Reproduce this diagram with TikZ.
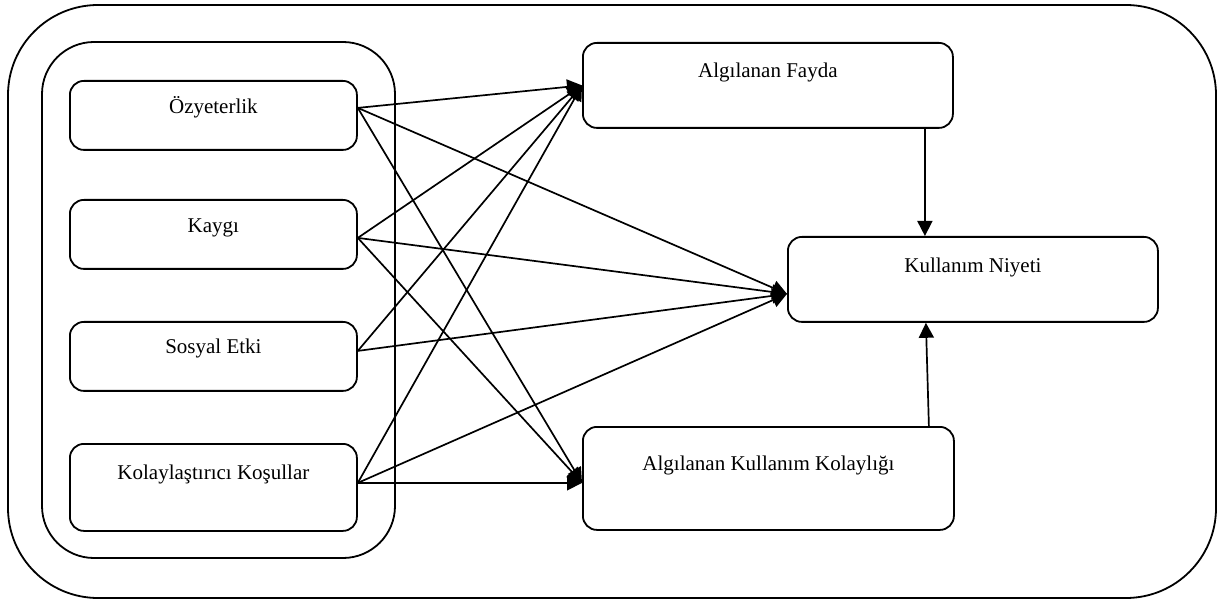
\documentclass[tikz,border=0pt]{standalone}
\usepackage{fontspec}
\setmainfont{Liberation Serif}
\usetikzlibrary{arrows.meta}
\tikzset{
  box/.style={draw, line width=1.8pt, rounded corners=14pt, inner xsep=0pt, inner ysep=0pt,
    font=\fontsize{21}{25}\selectfont, anchor=north west},
  frame/.style={draw, line width=1.8pt},
  link/.style={line width=1.7pt, -{Triangle[length=15pt,width=15pt]}}
}
\begin{document}
\begin{tikzpicture}[x=1pt,y=-1pt]
\useasboundingbox (0,0) rectangle (1218,601);
% frames
\draw[frame, rounded corners=90pt] (8,5) rectangle (1216,598);
\draw[frame, rounded corners=52pt] (42,42) rectangle (395,558);
% left boxes
\node[box, minimum width=287pt, text height=33pt, text depth=36pt] (oz) at (69,80) {Özyeterlik};
\node[box, minimum width=287pt, text height=33pt, text depth=36pt] (kaygi) at (69,199) {Kaygı};
\node[box, minimum width=287pt, text height=32pt, text depth=37pt] (sosyal) at (69,321) {Sosyal Etki};
\node[box, minimum width=287pt, text height=36pt, text depth=51pt] (kolayk) at (69,443) {Kolaylaştırıcı Koşullar};
% right boxes
\node[box, minimum width=370pt, text height=35pt, text depth=50pt] (fayda) at (582,42) {Algılanan Fayda};
\node[box, minimum width=370pt, text height=36pt, text depth=49pt] (niyet) at (787,236) {Kullanım Niyeti};
\node[box, minimum width=371pt, text height=44pt, text depth=59pt] (alk) at (582,426) {Algılanan Kullanım Kolaylığı};
% ports
\coordinate (ozP) at ([yshift=7.5pt]oz.east);
\coordinate (kaP) at ([yshift=-3.5pt]kaygi.east);
\coordinate (soP) at ([yshift=5.5pt]sosyal.east);
\coordinate (kkP) at ([yshift=4.5pt]kolayk.east);
\coordinate (faIn) at (fayda.west);
\coordinate (niIn) at ([yshift=-14.5pt]niyet.west);
\coordinate (alIn) at ([yshift=-4.5pt]alk.west);
\coordinate (faOut) at ([xshift=157pt]fayda.south);
\coordinate (niTop) at ([xshift=-48pt]niyet.north);
\coordinate (alOut) at ([xshift=160.5pt]alk.north);
\coordinate (niBot) at ([xshift=-47pt]niyet.south);
% connectors
\draw[link] (ozP) -- (faIn);
\draw[link] (ozP) -- (niIn);
\draw[link] (ozP) -- (alIn);
\draw[link] (kaP) -- (faIn);
\draw[link] (kaP) -- (niIn);
\draw[link] (kaP) -- (alIn);
\draw[link] (soP) -- (faIn);
\draw[link] (soP) -- (niIn);
\draw[link] (kkP) -- (faIn);
\draw[link] (kkP) -- (niIn);
\draw[link] (kkP) -- (alIn);
\draw[link] (faOut) -- (niTop);
\draw[link] (alOut) -- (niBot);
\end{tikzpicture}
\end{document}
